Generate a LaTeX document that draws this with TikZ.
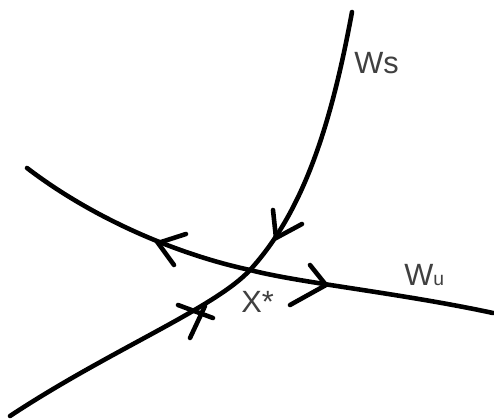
\documentclass[tikz,border=0pt]{standalone}
\usepackage{fontspec}
\setmainfont{Liberation Sans}
\begin{document}
\begin{tikzpicture}[x=0.02cm,y=-0.02cm,
  curve/.style={line width=2.6pt, line cap=round, line join=round},
  chev/.style={line width=2.6pt, line cap=round, line join=miter},
  lbl/.style={inner sep=0pt, anchor=base west, text=black!75, font=\fontsize{17.5}{20}\selectfont}]
\useasboundingbox (0,0) rectangle (494,419);
% crossing point
\coordinate (x) at (250,270);
% stable manifold Ws
\draw[curve] (352,12) .. controls (332,120) and (305,210) .. (x)
                      .. controls (215,308) and (110,350) .. (10,416);
% unstable manifold Wu
\draw[curve] (27,168) .. controls (95,220) and (180,255) .. (x)
                      .. controls (300,283) and (400,293) .. (493,313);
% arrow marks
\draw[chev] (273,210) -- (276,238) -- (302,224);
\draw[chev] (186,234) -- (158,243) -- (174,265);
\draw[chev] (310,265) -- (326,285) -- (290,305);
\draw[chev] (178,305) -- (213,318);
\draw[chev] (190,338) -- (205,306);
% labels
\node[lbl] (ws) at (354,73) {Ws};
\node[lbl] (wu) at (404,285) {W{\fontsize{11}{13}\selectfont u}};
\node[lbl] (xs) at (241,312) {X*};
\end{tikzpicture}
\end{document}
